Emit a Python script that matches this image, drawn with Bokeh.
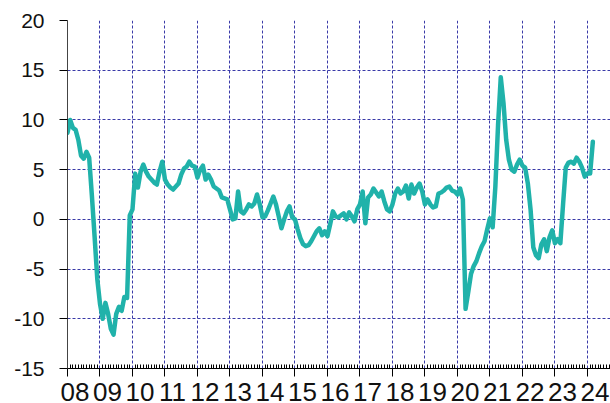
from bokeh.plotting import figure
from bokeh.models import FixedTicker, Range1d, LinearAxis
from bokeh.embed import file_html
from bokeh.resources import INLINE

# ---- data (monthly values) ----
v2008 = [8.7, 10.0, 9.2, 9.0, 8.0, 6.4, 6.1, 6.8, 6.2, 2.4, -1.7, -6.0]
v2009 = [-8.5, -10.0, -8.4, -9.5, -11.0, -11.6, -9.5, -8.8, -9.2, -7.8, -7.9, 0.4]
v2010 = [1.0, 4.6, 3.2, 4.8, 5.5, 4.8, 4.3, 4.0, 3.7, 3.5, 4.8, 5.8]
v2011 = [4.0, 3.5, 3.2, 3.0, 3.3, 3.6, 4.5, 5.1, 5.3, 5.8, 5.4, 5.3]
v2012 = [4.2, 5.0, 5.4, 4.0, 4.5, 4.0, 3.3, 3.1, 2.9, 2.2, 2.1, 2.0]
v2013 = [1.0, 0.0, 0.1, 2.8, 0.8, 0.6, 1.0, 1.5, 1.3, 1.6, 2.5, 1.5]
v2014 = [0.2, 0.3, 0.9, 1.6, 2.3, 1.5, 0.3, -0.9, 0.0, 0.8, 1.3, 0.2]
v2015 = [0.0, -1.0, -1.9, -2.5, -2.7, -2.6, -2.2, -1.7, -1.2, -0.9, -1.6, -1.2]
v2016 = [-1.7, -0.5, 0.8, 0.3, 0.2, 0.4, 0.6, 0.0, 0.7, 0.3, -0.2, 1.0]
v2017 = [1.5, 2.8, -0.4, 2.2, 2.5, 3.1, 2.7, 2.3, 2.8, 1.8, 1.0, 0.8]
v2018 = [1.5, 2.6, 3.1, 2.6, 2.8, 3.4, 2.1, 3.5, 2.6, 3.2, 3.6, 2.8]
v2019 = [1.5, 2.0, 1.5, 1.2, 1.3, 2.6, 2.7, 2.9, 3.2, 3.3, 2.9, 2.8]
v2020 = [2.5, 3.1, 2.0, -9.0, -7.3, -5.5, -4.7, -4.2, -3.4, -2.7, -2.2, -1.0]
v2021 = [0.1, -0.8, 3.3, 9.5, 14.3, 11.7, 8.0, 6.0, 5.0, 4.8, 5.5, 6.0]
v2022 = [5.4, 5.2, 3.6, 1.0, -2.8, -3.6, -3.9, -2.5, -2.0, -3.2, -1.8, -1.1]
v2023 = [-2.4, -2.0, -2.4, 1.5, 5.2, 5.7, 5.8, 5.6, 6.2, 5.8, 5.2, 4.3]
v2024 = [4.6, 4.6, 7.8]

start_year = 2008
years = list(range(2008, 2025))
year_labels = ["08", "09", "10", "11", "12", "13", "14", "15", "16",
               "17", "18", "19", "20", "21", "22", "23", "24"]
y_ticks = [-15, -10, -5, 0, 5, 10, 15, 20]
y_labels = ["-15", "-10", "-5", "0", "5", "10", "15", "20"]

values = (v2008 + v2009 + v2010 + v2011 + v2012 + v2013 + v2014 + v2015 +
          v2016 + v2017 + v2018 + v2019 + v2020 + v2021 + v2022 + v2023 + v2024)
xs = [start_year + i / 12.0 for i in range(len(values))]

x_end = 2024.71
minor = [start_year + m / 12.0 for m in range(0, int((x_end - start_year) * 12) + 1) if m % 12 != 0]
label_shift = 0.23  # labels sit a little to the right of their year tick

p = figure(width=610, height=403, output_backend="svg", toolbar_location=None,
           x_range=Range1d(start_year, x_end), y_range=Range1d(-15, 20),
           min_border_left=67, min_border_top=20, min_border_right=0, min_border_bottom=0)
p.outline_line_color = None
p.background_fill_color = "white"

# x axis: tick marks only (empty labels)
ax = p.below[0]
ax.ticker = FixedTicker(ticks=years, minor_ticks=minor)
ax.major_label_overrides = {y: "" for y in years}
ax.major_label_text_font_size = "1px"
ax.major_label_standoff = 0
ax.major_tick_out = 8
ax.major_tick_in = 0
ax.minor_tick_in = 4
ax.minor_tick_out = 0
ax.axis_line_color = "black"
ax.major_tick_line_color = "black"
ax.minor_tick_line_color = "black"

# x axis: year labels
lab_ticks = [y + label_shift for y in years]
ax2 = LinearAxis(ticker=FixedTicker(ticks=lab_ticks, minor_ticks=[]),
                 major_label_overrides={t: l for t, l in zip(lab_ticks, year_labels)},
                 axis_line_color=None, major_tick_line_color=None, minor_tick_line_color=None,
                 major_tick_out=0, major_tick_in=0, minor_tick_out=0, minor_tick_in=0,
                 major_label_standoff=6,
                 major_label_text_font="Liberation Sans",
                 major_label_text_font_size="26px",
                 major_label_text_color="#111111")
p.add_layout(ax2, "below")

ay = p.left[0]
ay.ticker = FixedTicker(ticks=y_ticks, minor_ticks=[])
ay.major_label_overrides = {t: l for t, l in zip(y_ticks, y_labels)}
ay.major_tick_out = 8
ay.major_tick_in = 0
ay.minor_tick_line_color = None
ay.major_label_standoff = 15
ay.major_label_text_font = "Liberation Sans"
ay.major_label_text_font_size = "21px"
ay.major_label_text_color = "#111111"
ay.axis_line_color = "#444444"
ay.major_tick_line_color = "black"

# grid
p.xgrid.ticker = FixedTicker(ticks=years[1:])
p.ygrid.ticker = FixedTicker(ticks=y_ticks[1:])
for g in (p.xgrid, p.ygrid):
    g.grid_line_color = "#3a3aa8"
    g.grid_line_dash = "3 2"
    g.grid_line_width = 1

p.line(xs, values, line_color="#20b2aa", line_width=4.5, line_join="round", line_cap="round")

open("out.html", "w").write(file_html(p, INLINE))
